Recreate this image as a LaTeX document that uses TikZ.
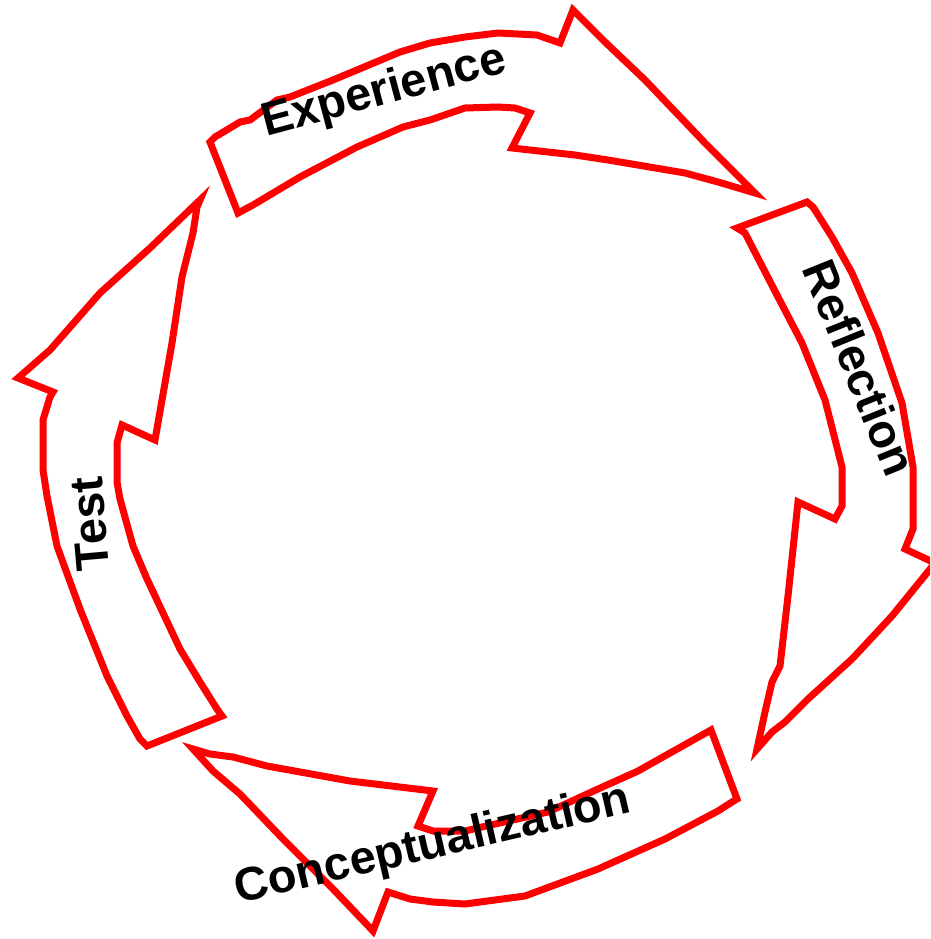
\documentclass[tikz,border=0pt]{standalone}
\usepackage{fontspec}
\setmainfont{Liberation Sans}
\begin{document}
\begin{tikzpicture}[x=1pt,y=-1pt,
  arrowshape/.style={draw=red, line width=7pt, fill=white, line join=miter},
  lbl/.style={font=\fontsize{47}{50}\selectfont\bfseries, inner sep=0pt, text=black}]
\path[clip] (0,0) rectangle (930,939);
\path[use as bounding box] (0,0) rectangle (930,939);
% Experience
\draw[arrowshape] (238,213) -- (210,142) -- (215,137) -- (240,122) -- (250,120) -- (277,100) -- (290,97) -- (333,80) -- (400,52) -- (430,43) -- (465,37) -- (498,33) -- (537,35) -- (560,43) -- (573,10) -- (605,42) -- (645,80) -- (705,143) -- (755,193) -- (745,190) -- (718,182) -- (685,173) -- (608,160) -- (575,155) -- (512,148) -- (530,113) -- (515,108) -- (498,107) -- (465,108) -- (430,120) -- (403,127) -- (357,147) -- (300,177) -- (253,205) -- cycle;
% Reflection
\draw[arrowshape] (737,228) -- (807,202) -- (813,207) -- (832,237) -- (852,273) -- (878,333) -- (902,403) -- (913,467) -- (913,529) -- (905,549) -- (935,563) -- (892,616) -- (852,659) -- (808,699) -- (785,722) -- (772,732) -- (757,749) -- (765,712) -- (772,682) -- (780,666) -- (788,596) -- (798,502) -- (835,519) -- (842,506) -- (842,467) -- (825,400) -- (802,343) -- (778,297) -- (745,233) -- cycle;
% Conceptualization
\draw[arrowshape] (711,730) -- (737,799) -- (732,802) -- (718,811) -- (665,839) -- (598,869) -- (525,896) -- (465,904) -- (433,902) -- (410,899) -- (388,892) -- (373,931) -- (333,889) -- (283,839) -- (240,794) -- (213,771) -- (193,749) -- (210,754) -- (233,757) -- (267,766) -- (350,781) -- (433,791) -- (418,826) -- (433,831) -- (465,831) -- (482,827) -- (548,812) -- (598,789) -- (638,771) -- cycle;
% Test
\draw[arrowshape] (147,746) -- (222,716) -- (217,709) -- (200,682) -- (180,649) -- (147,579) -- (133,546) -- (120,499) -- (117,482) -- (117,443) -- (122,425) -- (155,440) -- (172,343) -- (182,277) -- (193,233) -- (197,207) -- (200,200) -- (150,248) -- (100,293) -- (50,350) -- (18,378) -- (53,392) -- (50,397) -- (43,420) -- (43,470) -- (47,496) -- (57,546) -- (80,609) -- (107,676) -- (127,716) -- (140,739) -- cycle;
% labels
\node[lbl, rotate=15] (exp) at (384,92) {Experience};
\node[lbl, rotate=-68] (ref) at (860,368) {Reflection};
\node[lbl, rotate=13] (con) at (433,846) {Conceptualization};
\node[lbl, rotate=95] (tst) at (90,524) {Test};
\end{tikzpicture}
\end{document}
